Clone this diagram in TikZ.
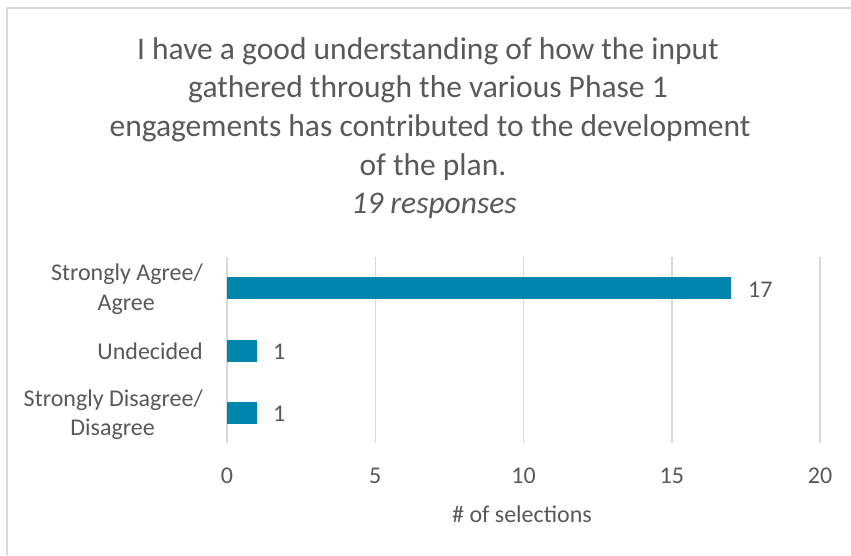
\documentclass[tikz,border=0pt]{standalone}
\usepackage{fontspec}
\setmainfont{Carlito}
\definecolor{txt}{HTML}{595959}
\definecolor{grid}{HTML}{D9D9D9}
\definecolor{bar}{HTML}{0086AD}
\definecolor{frame}{HTML}{D9D9D9}
\begin{document}
\begin{tikzpicture}[x=1pt,y=-1pt,
  titlestyle/.style={anchor=base,inner sep=0pt,text=txt,font=\fontsize{31.5}{38}\selectfont},
  catstyle/.style={anchor=base east,inner sep=0pt,text=txt,font=\fontsize{24}{30}\selectfont},
  tickstyle/.style={anchor=base,inner sep=0pt,text=txt,font=\fontsize{24}{30}\selectfont},
  valstyle/.style={anchor=base west,inner sep=0pt,text=txt,font=\fontsize{24}{30}\selectfont},
  gridline/.style={draw=grid,line width=1.5pt},
  barstyle/.style={fill=bar}]
\useasboundingbox (0,0) rectangle (851,555);
\fill[white] (0,0) rectangle (851,555);
% frame (top and left only visible)
\draw[frame,line width=1.5pt] (7,555) -- (7,8) -- (851,8);
% title
\node[titlestyle] (t1) at (428,59.3) {I have a good understanding of how the input};
\node[titlestyle] (t2) at (428,97.5) {gathered through the various Phase 1};
\node[titlestyle] (t3) at (430,136.5) {engagements has contributed to the development};
\node[titlestyle] (t4) at (433,175) {of the plan.};
\node[titlestyle,font=\fontsize{31.5}{38}\selectfont\itshape] (t5) at (434,213) {19 responses};
% grid lines
\foreach \v in {0,5,10,15,20}{
  \draw[gridline] ({227+\v*29.65},257) -- ({227+\v*29.65},443);
  \node[tickstyle] (tick\v) at ({227+\v*29.65},483) {\v};
}
% bars
\fill[barstyle] (227,277) rectangle ({227+17*29.65},299);
\fill[barstyle] (227,339.5) rectangle ({227+1*29.65},361.5);
\fill[barstyle] (227,402) rectangle ({227+1*29.65},424);
% value labels
\node[valstyle] (v1) at (748,297) {17};
\node[valstyle] (v2) at (273,359) {1};
\node[valstyle] (v3) at (273,421.5) {1};
% category labels
\node[catstyle] (c1a) at (203,280.7) {Strongly Agree/};
\node[catstyle] (c1b) at (155,310.7) {Agree};
\node[catstyle] (c2) at (203,359) {Undecided};
\node[catstyle] (c3a) at (203,406.5) {Strongly Disagree/};
\node[catstyle] (c3b) at (155,435) {Disagree};
% axis title
\node[tickstyle] (xt) at (522,522.7) {\# of selections};
\end{tikzpicture}
\end{document}
